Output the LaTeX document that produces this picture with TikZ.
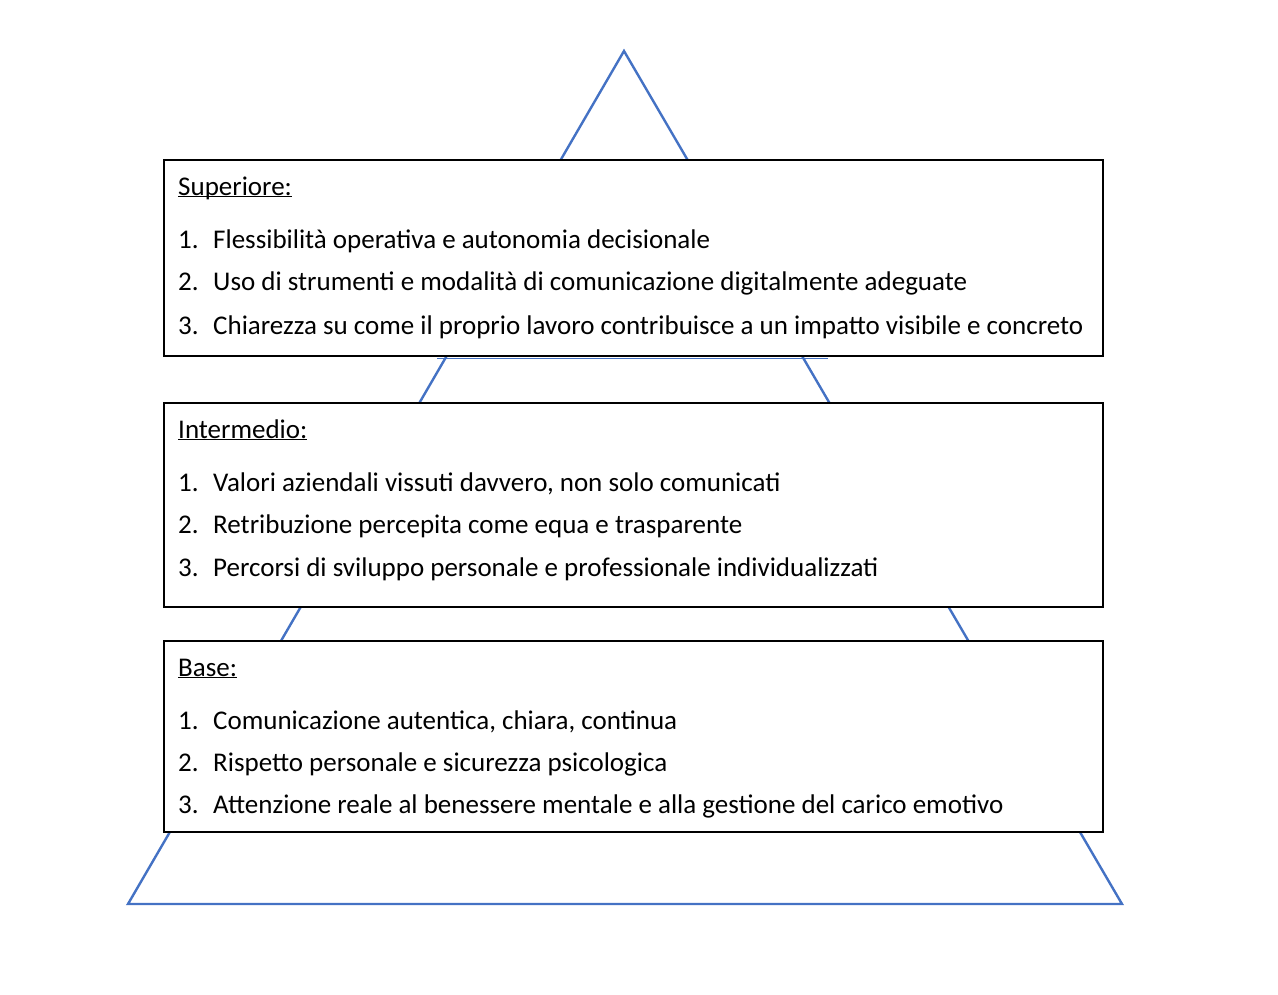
\documentclass[tikz,border=0pt]{standalone}
\usepackage{fontspec}
\setmainfont{Carlito}
\definecolor{pyrblue}{RGB}{68,114,196}
\newcommand\ulinetext[1]{\setbox0\hbox{#1}\rlap{\rule[-2.4pt]{\wd0}{1.5pt}}\box0}
\tikzset{
  pyr/.style={draw=pyrblue, line width=2.4pt, line join=miter},
  levelbox/.style={draw=black, fill=white, line width=2.2pt},
  txt/.style={anchor=base west, inner sep=0pt, font=\fontsize{27}{32}\selectfont},
}
\begin{document}
\begin{tikzpicture}[x=1pt,y=-1pt]
\useasboundingbox (0,0) rectangle (1278,994);
% pyramid
\coordinate (apex) at (624,51);
\coordinate (bl) at (128,904);
\coordinate (br) at (1122,904);
\draw[pyr] (bl) -- (apex) -- (br) -- cycle;
% boxes
\draw[levelbox] (164,160) rectangle (1103,356);
\draw[levelbox] (164,403) rectangle (1103,607);
\draw[levelbox] (164,641) rectangle (1103,832);
\coordinate (segl) at (437,358.6);
\coordinate (segr) at (828,358.6);
\draw[draw=pyrblue, line width=1.6pt] (segl) -- (segr);
% texts: Superiore
\node[txt] (h1) at (178,195) {\ulinetext{Superiore:}};
\node[txt] (n11) at (178,248) {1.};
\node[txt] (t11) at (213,248) {Flessibilità operativa e autonomia decisionale};
\node[txt] (n12) at (178,290) {2.};
\node[txt] (t12) at (213,290) {Uso di strumenti e modalità di comunicazione digitalmente adeguate};
\node[txt] (n13) at (178,334) {3.};
\node[txt] (t13) at (213,334) {Chiarezza su come il proprio lavoro contribuisce a un impatto visibile e concreto};
% Intermedio
\node[txt] (h2) at (178,438) {\ulinetext{Intermedio:}};
\node[txt] (n21) at (178,491) {1.};
\node[txt] (t21) at (213,491) {Valori aziendali vissuti davvero, non solo comunicati};
\node[txt] (n22) at (178,533) {2.};
\node[txt] (t22) at (213,533) {Retribuzione percepita come equa e trasparente};
\node[txt] (n23) at (178,576) {3.};
\node[txt] (t23) at (213,576) {Percorsi di sviluppo personale e professionale individualizzati};
% Base
\node[txt] (h3) at (178,676) {\ulinetext{Base:}};
\node[txt] (n31) at (178,729) {1.};
\node[txt] (t31) at (213,729) {Comunicazione autentica, chiara, continua};
\node[txt] (n32) at (178,771) {2.};
\node[txt] (t32) at (213,771) {Rispetto personale e sicurezza psicologica};
\node[txt] (n33) at (178,813) {3.};
\node[txt] (t33) at (213,813) {Attenzione reale al benessere mentale e alla gestione del carico emotivo};
\end{tikzpicture}
\end{document}
